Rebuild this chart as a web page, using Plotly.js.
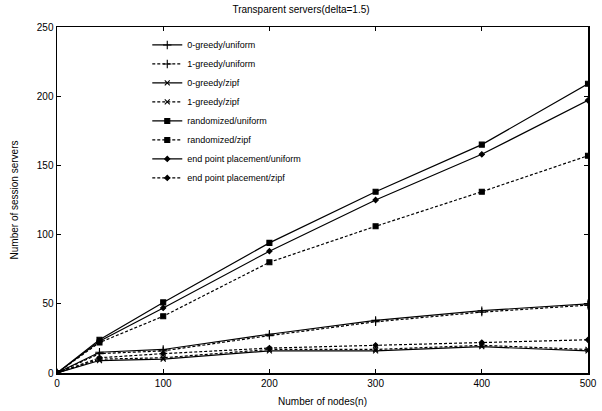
<!DOCTYPE html>
<html>
<head>
<meta charset="utf-8">
<script src="https://cdn.plot.ly/plotly-3.0.1.min.js"></script>
<style>html,body{margin:0;padding:0;background:#fff;}#chart{width:602px;height:411px;}</style>
</head>
<body>
<div id="chart"></div>
<script>
const nodes = [0, 40, 100, 200, 300, 400, 500];
const greedy0Uniform = [0, 15, 17, 28, 38, 45, 50];
const greedy1Uniform = [0, 14, 16, 27, 37, 44, 49];
const greedy0Zipf = [0, 9, 10, 16, 16, 19, 16];
const greedy1Zipf = [0, 10, 11, 17, 17, 20, 17];
const randomizedUniform = [0, 24, 51, 94, 131, 165, 209];
const randomizedZipf = [0, 22, 41, 80, 106, 131, 157];
const endPointUniform = [0, 23, 47, 88, 125, 158, 197];
const endPointZipf = [0, 11, 14, 18, 20, 22, 24];
const seriesNames = ["0-greedy/uniform", "1-greedy/uniform", "0-greedy/zipf", "1-greedy/zipf",
  "randomized/uniform", "randomized/zipf", "end point placement/uniform", "end point placement/zipf"];
const xTicks = [0, 100, 200, 300, 400, 500];
const yTicks = [0, 50, 100, 150, 200, 250];

const seriesData = [greedy0Uniform, greedy1Uniform, greedy0Zipf, greedy1Zipf,
  randomizedUniform, randomizedZipf, endPointUniform, endPointZipf];
const dashes = ["solid", "3px,2px", "solid", "3px,2px", "solid", "3px,2px", "solid", "3px,2px"];
const symbols = ["cross-thin", "cross-thin", "x-thin", "x-thin", "square", "square", "diamond", "diamond"];
const sizes = [6, 6, 5, 5, 5, 5, 4, 4];

const traces = seriesData.map((ys, i) => ({
  x: nodes, y: ys, name: seriesNames[i], type: "scatter", mode: "lines+markers",
  line: {color: "#000", width: 1.2, dash: dashes[i]},
  marker: {symbol: symbols[i], size: sizes[i], color: "#000", line: {color: "#000", width: 1.1}}
}));

const font = {family: "Liberation Sans, Arial, sans-serif", color: "#000"};
const layout = {
  width: 602, height: 411,
  margin: {l: 57, r: 14, t: 27, b: 38},
  paper_bgcolor: "#fff", plot_bgcolor: "#fff",
  font: Object.assign({size: 10}, font),
  title: {text: "Transparent servers(delta=1.5)", x: 0.5, xanchor: "center", y: 0.985, yanchor: "top",
    font: Object.assign({size: 10}, font)},
  xaxis: {
    range: [0, 500], tickvals: xTicks, ticktext: xTicks.map(String),
    showgrid: false, zeroline: false, showline: true, linecolor: "#000", linewidth: 1.5, mirror: "ticks",
    ticks: "inside", ticklen: 4, tickcolor: "#000",
    tickfont: Object.assign({size: 10}, font),
    title: {text: "Number of nodes(n)", font: Object.assign({size: 10}, font), standoff: 10}
  },
  yaxis: {
    range: [0, 250], tickvals: yTicks, ticktext: yTicks.map(String),
    showgrid: false, zeroline: false, showline: true, linecolor: "#000", linewidth: 1.5, mirror: "ticks",
    ticks: "inside", ticklen: 4, tickcolor: "#000",
    tickfont: Object.assign({size: 10}, font),
    title: {text: "Number of session servers", font: Object.assign({size: 10}, font), standoff: 16}
  },
  legend: {
    x: 0.17, y: 0.99, xanchor: "left", yanchor: "top",
    bgcolor: "rgba(255,255,255,0)", borderwidth: 0,
    font: Object.assign({size: 9}, font),
    tracegroupgap: 0, itemwidth: 30
  },
  showlegend: true
};

Plotly.newPlot("chart", traces, layout, {displayModeBar: false, staticPlot: true});
</script>
</body>
</html>
